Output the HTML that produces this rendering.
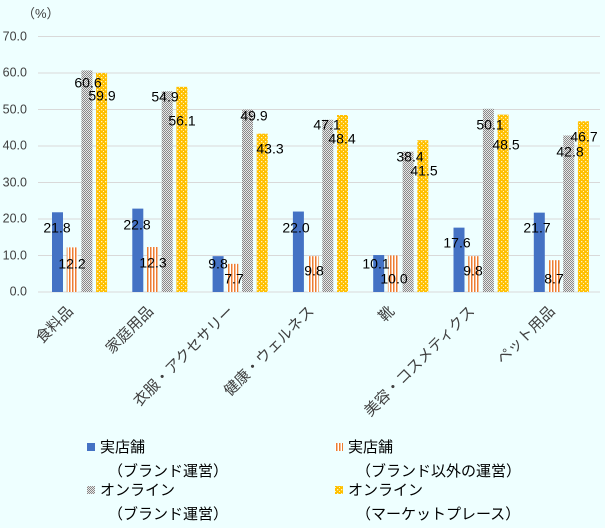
<!DOCTYPE html>
<html><head><meta charset="utf-8"><style>
body{margin:0;background:#EEFFFF;}
svg{display:block;font-family:"Liberation Sans","Noto Sans CJK JP",sans-serif;}
</style></head><body>
<svg width="605" height="528" viewBox="0 0 605 528">
<defs>
<pattern id="po" width="3" height="3" patternUnits="userSpaceOnUse"><rect width="3" height="3" fill="#fff"/><rect width="1.5" height="3" fill="#ED7D31"/></pattern>
<pattern id="pg" width="2" height="2" patternUnits="userSpaceOnUse"><rect width="2" height="2" fill="#e8e8e8"/><rect width="1" height="1" fill="#888"/><rect x="1" y="1" width="1" height="1" fill="#888"/></pattern>
<pattern id="py" width="4" height="4" patternUnits="userSpaceOnUse"><rect width="4" height="4" fill="#FFC000"/><rect x="1" y="1" width="1.3" height="1.3" fill="#fff3c0"/><rect x="3" y="3" width="1" height="1" fill="#fff3c0"/></pattern>
</defs>
<rect width="605" height="528" fill="#EEFFFF"/>
<text x="22" y="18" font-size="13" fill="#404040">（%）</text>
<g stroke="#d9d9d9" stroke-width="1">
<line x1="38" y1="36.5" x2="600" y2="36.5"/><line x1="38" y1="73" x2="600" y2="73"/><line x1="38" y1="109.5" x2="600" y2="109.5"/><line x1="38" y1="146" x2="600" y2="146"/><line x1="38" y1="182.5" x2="600" y2="182.5"/><line x1="38" y1="219" x2="600" y2="219"/><line x1="38" y1="255.5" x2="600" y2="255.5"/><line x1="38" y1="292" x2="600" y2="292"/>
</g>
<g font-size="12.5" fill="#404040" text-anchor="end" dominant-baseline="middle">
<text x="27" y="37">70.0</text><text x="27" y="73">60.0</text><text x="27" y="110">50.0</text><text x="27" y="146">40.0</text><text x="27" y="183">30.0</text><text x="27" y="219">20.0</text><text x="27" y="256">10.0</text><text x="27" y="292">0.0</text>
</g>
<g id="bars"></g>
<g id="labs" font-size="14" fill="#000" text-anchor="middle" dominant-baseline="middle"></g>
<g id="cats" font-size="15" fill="#404040" text-anchor="end"></g>
<g font-size="15" fill="#000">
<rect x="87" y="443" width="8" height="8" fill="#4472C4"/><text x="100" y="452">実店舗</text>
<text x="108" y="476">（ブランド運営）</text>
<rect x="87" y="486" width="8" height="8" fill="url(#pg)"/><text x="100" y="495">オンライン</text>
<text x="108" y="519">（ブランド運営）</text>
<rect x="335" y="443" width="8" height="8" fill="url(#po)"/><text x="348" y="452">実店舗</text>
<text x="356" y="476">（ブランド以外の運営）</text>
<rect x="335" y="486" width="8" height="8" fill="url(#py)"/><text x="348" y="495">オンライン</text>
<text x="356" y="519">（マーケットプレース）</text>
</g>
<script>
var d=[[21.8,12.2,60.6,59.9],[22.8,12.3,54.9,56.1],[9.8,7.7,49.9,43.3],[22.0,9.8,47.1,48.4],[10.1,10.0,38.4,41.5],[17.6,9.8,50.1,48.5],[21.7,8.7,42.8,46.7]];
var L=[[[57,229],[72,265],[88,84],[102,97]],[[137,226],[153,264],[165,98],[182,122]],[[218,265],[234,280],[254,117],[270,150]],[[296,229],[314,272],[327,126],[342,140]],[[376,265],[394,280],[410,158],[424,172]],[[457,244],[473,272],[490,126],[506,146]],[[537,229],[554,280],[570,153],[584,138]]];
var cats=["食料品","家庭用品","衣服・アクセサリー","健康・ウェルネス","靴","美容・コスメティクス","ペット用品"];
var f=["#4472C4","url(#po)","url(#pg)","url(#py)"];
var ns="http://www.w3.org/2000/svg",b=document.getElementById("bars"),l=document.getElementById("labs"),c=document.getElementById("cats");
for(var i=0;i<7;i++){for(var s=0;s<4;s++){var v=d[i][s],h=v*3.657,x=52+i*80.3+s*14.7;
var r=document.createElementNS(ns,"rect");r.setAttribute("x",x);r.setAttribute("y",292-h);r.setAttribute("width",11);r.setAttribute("height",h);r.setAttribute("fill",f[s]);b.appendChild(r);
var t=document.createElementNS(ns,"text");t.setAttribute("x",L[i][s][0]);t.setAttribute("y",L[i][s][1]);t.textContent=v.toFixed(1);l.appendChild(t);}
var cx=76+i*80.3,ct=document.createElementNS(ns,"text");ct.setAttribute("transform","translate("+(cx-2)+",312) rotate(-45)");ct.textContent=cats[i];c.appendChild(ct);}
</script>
</svg>
</body></html>
